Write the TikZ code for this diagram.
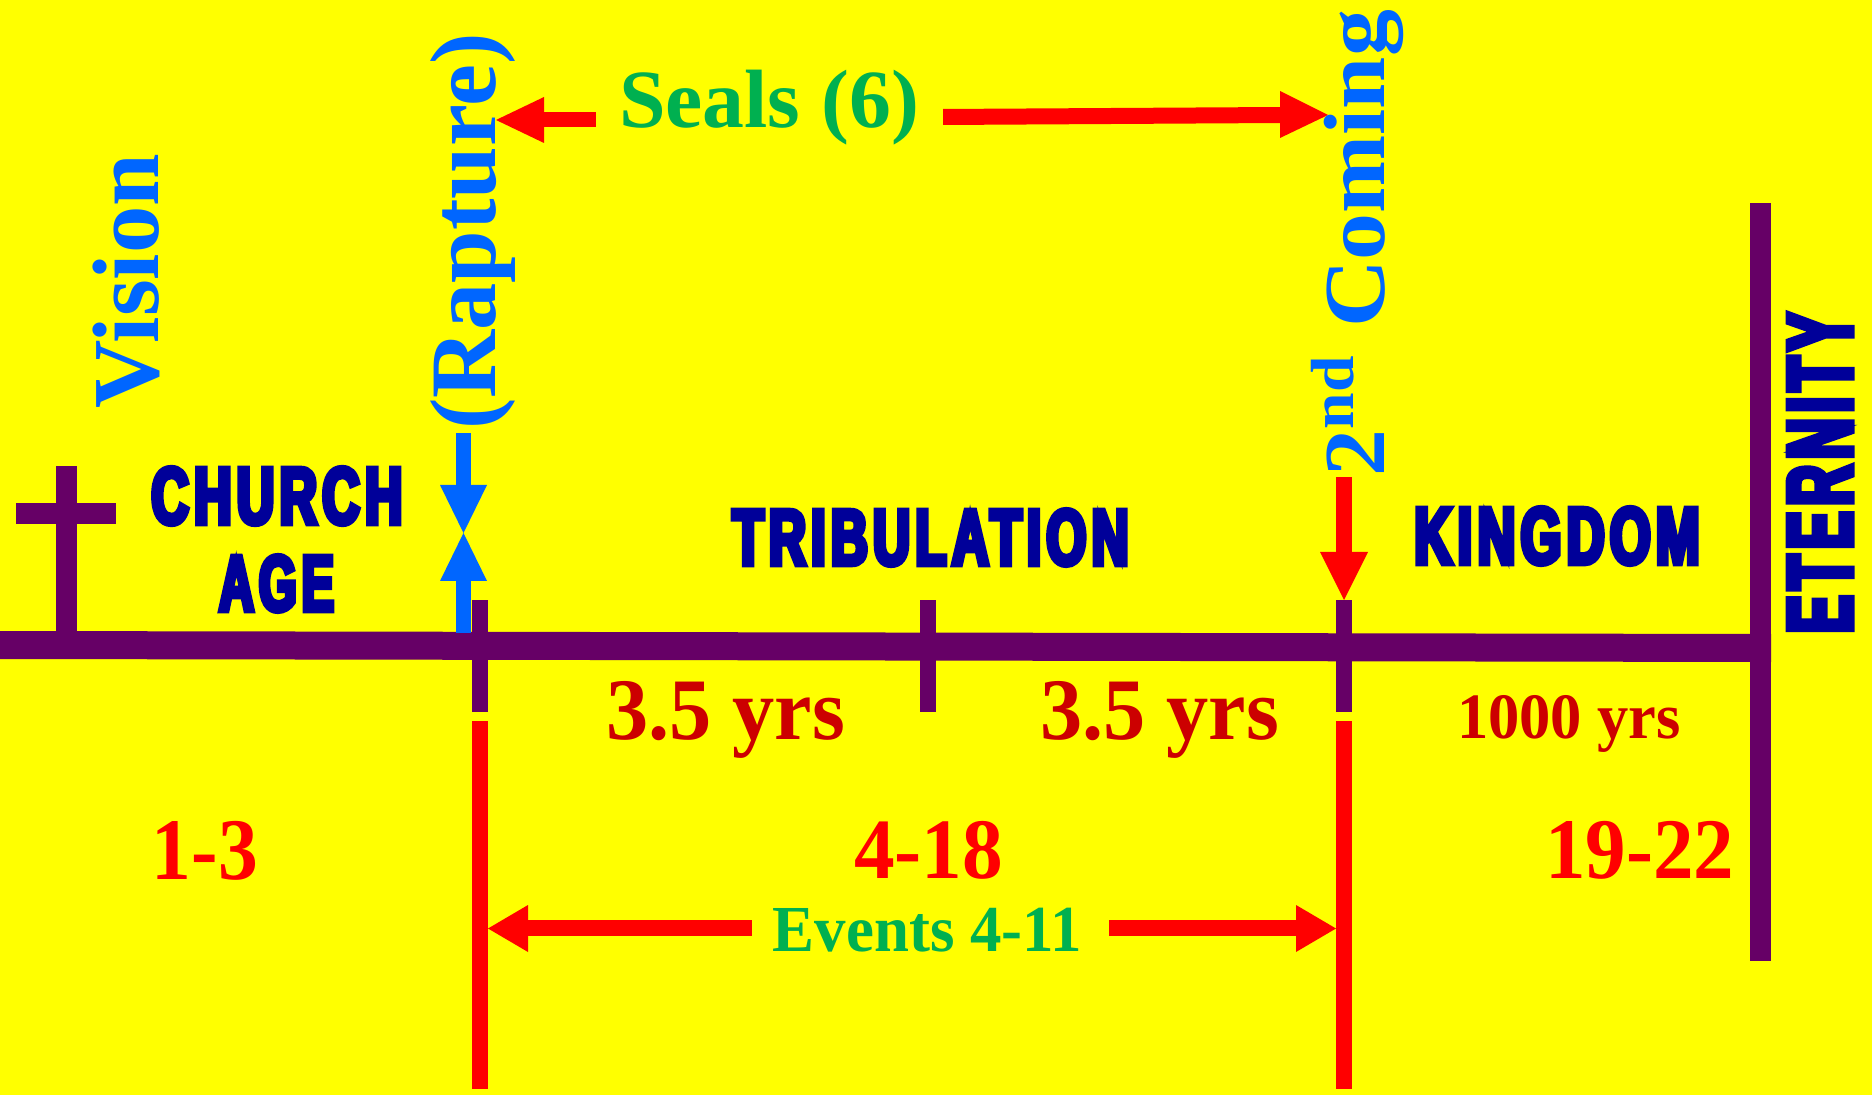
\documentclass[tikz,border=0pt]{standalone}
\usepackage{fontspec}
\setmainfont{Liberation Serif}
\newfontfamily\tnr{Liberation Serif Bold}
\newfontfamily\impf[FakeStretch=0.67,FakeBold=6.5,LetterSpace=7]{Liberation Sans Bold}
\definecolor{bgc}{HTML}{FFFF00}
\definecolor{purp}{HTML}{660066}
\definecolor{redc}{HTML}{FF0000}
\definecolor{dredc}{HTML}{CC0000}
\definecolor{bluec}{HTML}{0066FF}
\definecolor{navyc}{HTML}{000099}
\definecolor{greenc}{HTML}{00B050}
\newlength{\px}
\setlength{\px}{0.5pt}
\newcommand\fitbox[3]{\resizebox*{#1\px}{#2\px}{#3}}
\tikzset{
  lbl/.style={inner sep=0pt, outer sep=0pt, anchor=center},
  heavy/.style={lbl, text=navyc, font=\impf},
  serifb/.style={lbl, font=\tnr},
}
\begin{document}
\begin{tikzpicture}[x=0.5pt,y=-0.5pt]
\fill[bgc] (0,0) rectangle (1872,1095);
\useasboundingbox (0,0) rectangle (1872,1095);

% main time line and eternity bar
\fill[purp] (0,631) -- (1771,634) -- (1771,662) -- (0,659) -- cycle;
\fill[purp] (1750,203) rectangle (1771,961);
% cross
\fill[purp] (55.5,466) rectangle (76.5,645);
\fill[purp] (16,503) rectangle (116,524);
% ticks
\foreach \x in {472,920,1336} {\fill[purp] (\x,600) rectangle (\x+16,712);}
% red vertical lines
\fill[redc] (472,721) rectangle (488,1089);
\fill[redc] (1336,721) rectangle (1352,1089);

% blue rapture arrows
\fill[bluec] (456,433) rectangle (471,487);
\fill[bluec] (440,485) -- (487,485) -- (463.5,533) -- cycle;
\fill[bluec] (440,581) -- (487,581) -- (463.5,533) -- cycle;
\fill[bluec] (456,579) rectangle (471,633);

% red 2nd coming arrow
\fill[redc] (1336,477) rectangle (1352,554);
\fill[redc] (1320,552) -- (1368,552) -- (1344,600) -- cycle;

% seals arrows
\fill[redc] (542,112) rectangle (596,127);
\fill[redc] (544,97) -- (544,143) -- (496,120) -- cycle;
\fill[redc] (943,109) -- (1282,107) -- (1282,123) -- (943,125) -- cycle;
\fill[redc] (1280,91) -- (1280,138) -- (1328,115) -- cycle;

% events arrows
\fill[redc] (526,920) rectangle (752,936);
\fill[redc] (528,905) -- (528,952) -- (488,928.5) -- cycle;
\fill[redc] (1109,920) rectangle (1298,936);
\fill[redc] (1296,905) -- (1296,952) -- (1336,928.5) -- cycle;

% heavy labels
\node[heavy] (church) at (277,496) {\fitbox{251}{57}{CHURCH}};
\node[heavy] (age) at (276.5,583.5) {\fitbox{115}{56}{AGE}};
\node[heavy] (trib) at (930.5,537.5) {\fitbox{396}{56}{TRIBULATION}};
\node[heavy] (kingdom) at (1557,536) {\fitbox{285}{57}{KINGDOM}};
\node[heavy, rotate=90] (eternity) at (1820,473) {\fitbox{320}{63}{ETERNITY}};

% serif labels
\node[serifb, text=greenc] (seals) at (769,107.5) {\fitbox{300}{75}{Seals (6)}};
\node[serifb, text=greenc] (events) at (927.5,930) {\fitbox{309}{44}{Events 4-11}};
\node[serifb, text=dredc] (yrsA) at (725.5,719.5) {\fitbox{239}{77}{3.5 yrs}};
\node[serifb, text=dredc] (yrsB) at (1159.5,719.5) {\fitbox{239}{77}{3.5 yrs}};
\node[serifb, text=dredc] (yrsC) at (1569,723.5) {\fitbox{224}{57}{1000 yrs}};
\node[serifb, text=redc] (chA) at (205,850.5) {\fitbox{106}{59}{1-3}};
\node[serifb, text=redc] (chB) at (928.5,850) {\fitbox{149}{58}{4-18}};
\node[serifb, text=redc] (chC) at (1639.5,850) {\fitbox{189}{58}{19-22}};

\node[serifb, text=bluec, rotate=90] (vision) at (126.5,281) {\fitbox{254}{67}{Vision}};
\node[serifb, text=bluec, rotate=90] (rapture) at (472.5,231.5) {\fitbox{397}{85}{(Rapture)}};
\node[serifb, text=bluec, rotate=90] (coming) at (1357.5,243) {\fitbox{466}{93}{2\textsuperscript{nd} Coming}};
\end{tikzpicture}
\end{document}
